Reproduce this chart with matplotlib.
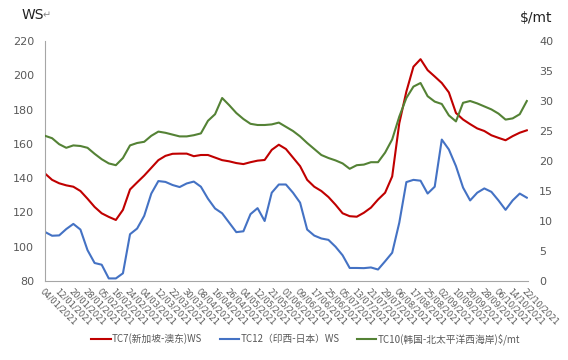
import matplotlib.pyplot as plt
import numpy as np

# Configuration settings
figsize = (5.68, 3.60)
dpi = 100
tick_color = '#595959'
axis_color = '#a6a6a6'
red = '#c00000'
blue = '#4472c4'
green = '#548235'
cjk = ['Noto Sans CJK SC', 'DejaVu Sans']

# x tick labels (one every 6 trading days)
tick_labels = ['04/01/2021', '12/01/2021', '20/01/2021', '28/01/2021', '05/02/2021',
               '16/02/2021', '24/02/2021', '04/03/2021', '12/03/2021', '22/03/2021',
               '30/03/2021', '08/04/2021', '16/04/2021', '26/04/2021', '04/05/2021',
               '12/05/2021', '21/05/2021', '01/06/2021', '09/06/2021', '17/06/2021',
               '25/06/2021', '05/07/2021', '13/07/2021', '21/07/2021', '29/07/2021',
               '06/08/2021', '17/08/2021', '25/08/2021', '02/09/2021', '10/09/2021',
               '20/09/2021', '28/09/2021', '06/10/2021', '14/10/2021', '22/10/2021']

# values read every 3 trading days
tc7_ws = [142.7, 139, 137, 135.8, 135, 132.5, 128, 123.2, 119.5, 117.4,
          115.6, 121.5, 133.4, 137.5, 141.5, 146, 150.5, 153, 154.2, 154.3,
          154.3, 152.8, 153.5, 153.5, 152, 150.5, 149.8, 148.8, 148.2, 149.3,
          150.2, 150.6, 156.5, 159.5, 157, 152, 147, 139, 135, 132.5,
          129, 124.5, 119.5, 117.8, 117.5, 119.8, 122.8, 127.5, 131.5, 141,
          172, 190.5, 205, 209.4, 203, 199.3, 195.5, 190, 178, 174.2,
          171.5, 169, 167.5, 165, 163.5, 162.1, 164.5, 166.5, 167.9]

tc12_ws = [108.6, 106.4, 106.6, 110.3, 113.3, 110, 98, 90.5, 89.5, 81.5,
           81.5, 84.5, 107.3, 110.6, 118, 131, 138.3, 137.8, 136, 134.8,
           136.9, 138, 135, 128, 122.3, 119.5, 114, 108.5, 109, 119,
           122.5, 115, 131.5, 136.3, 136.3, 131.5, 125.7, 110, 106.5, 104.8,
           104, 100, 95, 87.6, 87.6, 87.5, 87.9, 86.7, 91.5, 96.5,
           114, 137.7, 139, 138.5, 131, 135, 162.5, 156.7, 147, 134.5,
           127, 131.5, 134, 132, 127, 121.5, 127, 131, 128.6]

tc10_usd = [24.2, 23.8, 22.8, 22.2, 22.6, 22.5, 22.2, 21.2, 20.3, 19.6,
            19.3, 20.5, 22.6, 23, 23.2, 24.2, 24.9, 24.7, 24.4, 24.1,
            24.1, 24.3, 24.6, 26.7, 27.8, 30.5, 29.3, 28, 27, 26.2,
            26, 26, 26.1, 26.4, 25.7, 25, 24.1, 23, 22, 21,
            20.5, 20.1, 19.6, 18.7, 19.3, 19.4, 19.8, 19.8, 21.4, 23.6,
            27.4, 30.5, 32.4, 33, 30.8, 29.9, 29.5, 27.6, 26.6, 29.7,
            30, 29.6, 29.1, 28.6, 27.9, 26.9, 27.1, 27.8, 30]

labels = ['TC7(新加坡-澳东)WS', 'TC12（印西-日本）WS', 'TC10(韩国-北太平洋西海岸)$/mt']

x = np.arange(len(tc7_ws)) * 3
tick_pos = np.arange(len(tick_labels)) * 6

fig = plt.figure(figsize=figsize, dpi=dpi)
ax = fig.add_axes([45 / 568, 1 - 281 / 360, 483 / 568, 240 / 360])
ax2 = ax.twinx()

l1, = ax.plot(x, tc7_ws, color=red, linewidth=1.5)
l2, = ax.plot(x, tc12_ws, color=blue, linewidth=1.5)
l3, = ax2.plot(x, tc10_usd, color=green, linewidth=1.5)

ax.set_ylim(80, 220)
ax.set_yticks(np.arange(80, 221, 20))
ax2.set_ylim(0, 40)
ax2.set_yticks(np.arange(0, 41, 5))
ax.set_xlim(0, 204.5)
ax.set_xticks(tick_pos)
ax.set_xticklabels(tick_labels, rotation=-45, ha='left', va='top',
                   rotation_mode='anchor', fontsize=6)

for a in (ax, ax2):
    for s in a.spines.values():
        s.set_visible(False)
    a.tick_params(length=0, colors=tick_color, labelsize=8)
ax.spines['left'].set_visible(True)
ax.spines['bottom'].set_visible(True)
ax.spines['left'].set_color(axis_color)
ax.spines['bottom'].set_color(axis_color)
ax.tick_params(axis='y', pad=8)
ax.tick_params(axis='x', labelsize=6, pad=4)
ax2.tick_params(axis='y', pad=8)

fig.text(22 / 568, 1 - 15 / 360, 'WS', fontsize=10, color='#222222', va='center')
fig.text(43 / 568, 1 - 15 / 360, '↵', fontsize=7, color='#888888', va='center')
fig.text(520 / 568, 1 - 18 / 360, '$/mt', fontsize=10, color='#222222', va='center')

fig.legend([l1, l2, l3], labels, loc='center', bbox_to_anchor=(0.538, 1 - 339 / 360),
           ncol=3, frameon=False, handlelength=2.0, handletextpad=0.1,
           columnspacing=1.8, prop={'family': cjk, 'size': 7}, labelcolor=tick_color)

plt.savefig('out.png', dpi=dpi)
